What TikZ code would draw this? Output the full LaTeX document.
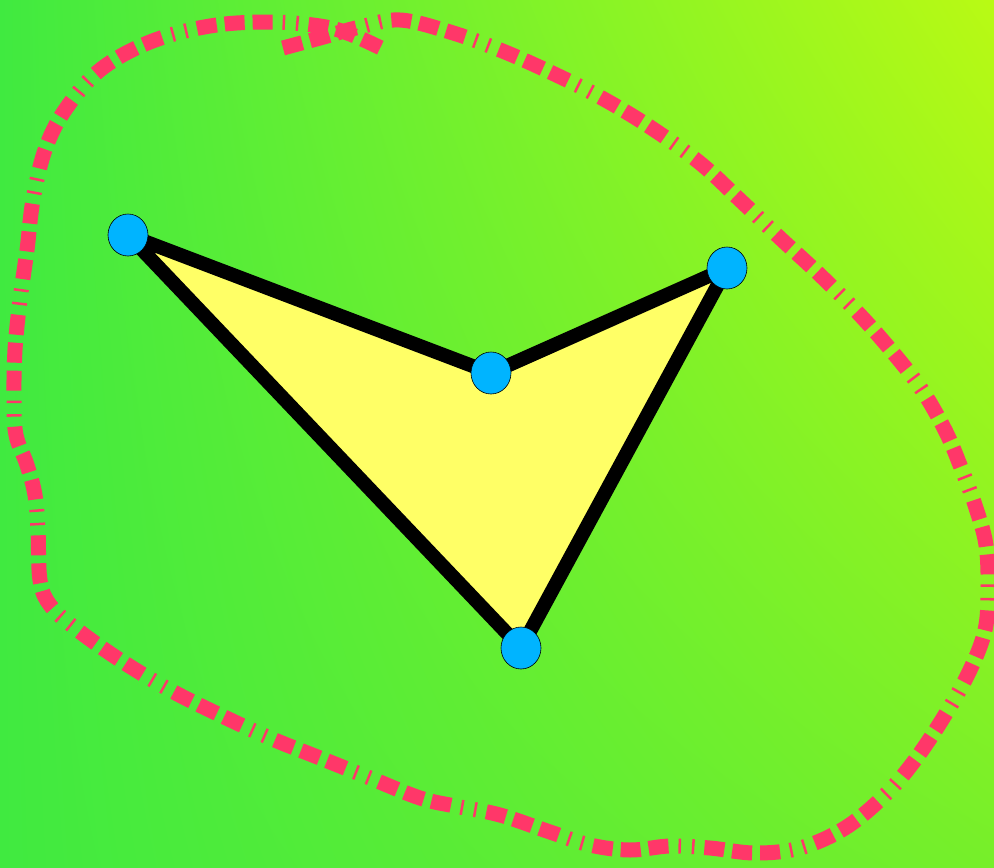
\documentclass[tikz,border=0pt]{standalone}
\usetikzlibrary{shadings,shapes.geometric}
\begin{document}
\begin{tikzpicture}[x=1pt,y=-1pt,
  vertex/.style={ellipse,draw=black,line width=0.6pt,fill=dotblue,minimum width=40pt,minimum height=42pt,inner sep=0pt},
  edgeline/.style={line width=14pt,line join=round,draw=black},
  loopline/.style={draw=loopred,line width=15pt,dash pattern=on 20pt off 8pt on 20pt off 8pt on 20pt off 10pt on 2.5pt off 11pt on 2.5pt off 10pt}]
\definecolor{dotblue}{RGB}{0,180,255}
\definecolor{loopred}{RGB}{255,55,105}
\definecolor{polyyellow}{RGB}{255,255,102}
\definecolor{bgA}{RGB}{64,234,64}
\definecolor{bgB}{RGB}{185,250,20}
\definecolor{bgC}{RGB}{118,239,42}
\useasboundingbox (0,0) rectangle (994,868);
\shade[upper left=bgA,lower left=bgA,upper right=bgB,lower right=bgC] (0,0) rectangle (994,868);
\draw[loopline] plot[smooth,tension=0.6] coordinates {
(283,48) (320,38) (360,27) (400,20) (450,32) (500,50) (550,72) (600,97) (650,127) (700,163) (740,200) (780,238) (820,275) (860,315) (895,355) (922,390) (945,430) (960,465) (975,505) (986,545) (988,590) (985,630) (970,670) (945,715) (915,760) (885,795) (845,828) (800,848) (755,853) (710,848) (670,846) (630,850) (590,845) (550,832) (500,815) (455,806) (420,798) (370,778) (320,758) (270,738) (220,715) (170,690) (120,660) (75,628) (50,605) (40,580) (38,530) (35,495) (27,465) (16,435) (14,400) (15,350) (20,300) (27,250) (33,200) (45,150) (65,110) (100,70) (150,42) (210,26) (270,22) (320,26) (350,34) (385,50)};
\coordinate (a) at (128,235);
\coordinate (b) at (491,373);
\coordinate (c) at (727,268);
\coordinate (d) at (521,648);
\filldraw[edgeline,fill=polyyellow] (a) -- (b) -- (c) -- (d) -- cycle;
\node[vertex] (na) at (a) {};
\node[vertex] (nb) at (b) {};
\node[vertex] (nc) at (c) {};
\node[vertex] (nd) at (d) {};
\end{tikzpicture}
\end{document}
